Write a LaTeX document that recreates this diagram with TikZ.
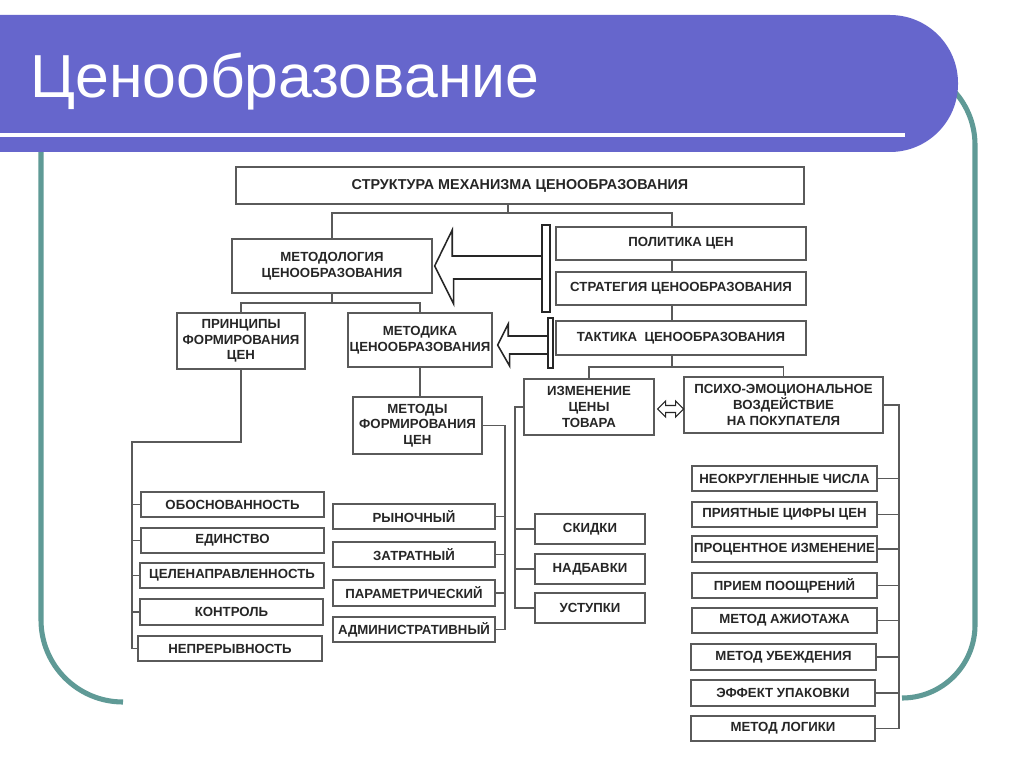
\documentclass[tikz,border=0pt]{standalone}
\usepackage{fontspec}
\setmainfont{Liberation Sans}
\usepackage{xcolor}
\usepackage{tikz}
\usetikzlibrary{arrows.meta,calc}
\definecolor{banner}{HTML}{6666CC}
\definecolor{frameteal}{HTML}{5F9A96}
\definecolor{boxline}{HTML}{5A5A5A}
\definecolor{boxtext}{HTML}{262626}
\newcommand{\pxu}{0.025cm}
\tikzset{
  blk/.style 2 args={draw=boxline,line width=0.9pt,fill=white,text=boxtext,
    font=\bfseries\fontsize{9.4}{11.2}\selectfont,align=center,inner sep=0pt,
    minimum width=#1*\pxu,minimum height=#2*\pxu},
  barbox/.style={draw=black!85,line width=1.1pt,fill=white,inner sep=0pt,
    minimum width=#1*\pxu},
  link/.style={draw=boxline,line width=0.8pt},
  blockarrow/.style={draw=black!85,line width=1.1pt,fill=white,line join=miter},
  framepen/.style={draw=frameteal,line width=3.6pt}
}

\begin{document}
\begin{tikzpicture}[x=0.025cm,y=-0.025cm]
    \useasboundingbox[fill=white] (0,0) rectangle (1024,767);

    % teal frame, broken at the bottom
    \draw[framepen] (41,150) -- (41,620) .. controls (41,665.3) and (77.7,702) .. (123,702);
    \draw[framepen] (902,698) .. controls (942.3,698) and (975,665.3) .. (975,625)
        -- (975,145) .. controls (975,100.8) and (939.2,65) .. (895,65);

    % title banner
    \fill[banner] (0,15) -- (0,152) [rounded corners=1.7cm] -- (958,152) -- (958,15) [sharp corners] -- cycle;
    \draw[white,line width=2.8pt] (0,135) -- (905,135);
    \node[anchor=base west,text=white,inner sep=0pt,font=\fontsize{43.2}{50}\selectfont] (title) at (30,98) {Ценообразование};

    % upper part
    \node[blk={568}{37},font=\bfseries\fontsize{10.2}{12}\selectfont] (top) at (520,185.5) {СТРУКТУРА МЕХАНИЗМА ЦЕНООБРАЗОВАНИЯ};
    \node[blk={200}{54}] (metodol) at (332,266) {МЕТОДОЛОГИЯ\\ЦЕНООБРАЗОВАНИЯ};
    \node[blk={250}{33}] (polit) at (681,243.5) {ПОЛИТИКА ЦЕН};
    \node[blk={250}{33}] (strat) at (681,288.5) {СТРАТЕГИЯ ЦЕНООБРАЗОВАНИЯ};
    \node[blk={250}{34}] (takt) at (681,338) {ТАКТИКА\ \ ЦЕНООБРАЗОВАНИЯ};
    \node[blk={128}{56}] (princ) at (241,341) {ПРИНЦИПЫ\\ФОРМИРОВАНИЯ\\ЦЕН};
    \node[blk={144}{54}] (metodika) at (420,340) {МЕТОДИКА\\ЦЕНООБРАЗОВАНИЯ};
    \node[blk={129}{57}] (metody) at (417.5,425.5) {МЕТОДЫ\\ФОРМИРОВАНИЯ\\ЦЕН};
    \node[blk={130}{56}] (izmen) at (589,407) {ИЗМЕНЕНИЕ\\ЦЕНЫ\\ТОВАРА};
    \node[blk={199}{56}] (psych) at (783.5,405) {ПСИХО-ЭМОЦИОНАЛЬНОЕ\\ВОЗДЕЙСТВИЕ\\НА ПОКУПАТЕЛЯ};

    % principles
    \node[blk={183}{25}] (obos) at (232.5,504.5) {ОБОСНОВАННОСТЬ};
    \node[blk={183}{25}] (edin) at (232.5,540.5) {ЕДИНСТВО};
    \node[blk={184}{25}] (celen) at (232,575.5) {ЦЕЛЕНАПРАВЛЕННОСТЬ};
    \node[blk={183}{26}] (kontr) at (231.5,612) {КОНТРОЛЬ};
    \node[blk={184}{25}] (nepr) at (230,648.5) {НЕПРЕРЫВНОСТЬ};

    % methods
    \node[blk={162}{25}] (rynoch) at (414,516.5) {РЫНОЧНЫЙ};
    \node[blk={162}{25}] (zatrat) at (414,554.5) {ЗАТРАТНЫЙ};
    \node[blk={162}{26}] (param) at (414,593) {ПАРАМЕТРИЧЕСКИЙ};
    \node[blk={162}{25}] (admin) at (414,629.5) {АДМИНИСТРАТИВНЫЙ};

    % price change
    \node[blk={110}{30}] (skidki) at (590,529) {СКИДКИ};
    \node[blk={110}{30}] (nadb) at (590,569) {НАДБАВКИ};
    \node[blk={110}{30}] (ustup) at (590,608) {УСТУПКИ};

    % psychology
    \node[blk={185}{25}] (neokr) at (784.5,478.5) {НЕОКРУГЛЕННЫЕ ЧИСЛА};
    \node[blk={185}{25}] (priyat) at (784.5,514.5) {ПРИЯТНЫЕ ЦИФРЫ ЦЕН};
    \node[blk={185}{26}] (proc) at (784.5,549) {ПРОЦЕНТНОЕ ИЗМЕНЕНИЕ};
    \node[blk={185}{25}] (priem) at (784.5,585.5) {ПРИЕМ ПООЩРЕНИЙ};
    \node[blk={185}{25}] (azhiot) at (784.5,620.5) {МЕТОД АЖИОТАЖА};
    \node[blk={185}{26}] (ubezh) at (783.5,657) {МЕТОД УБЕЖДЕНИЯ};
    \node[blk={184}{26}] (effekt) at (783,693) {ЭФФЕКТ УПАКОВКИ};
    \node[blk={184}{25}] (logik) at (783,728.5) {МЕТОД ЛОГИКИ};

    % tree lines
    \coordinate (topj) at (508,213);
    \coordinate (rcol) at (672,0);
    \draw[link] (top.south -| topj) -- (topj);
    \draw[link] (metodol.north) |- (topj) -| (rcol |- polit.north);
    \draw[link] (rcol |- polit.south) -- (rcol |- strat.north);
    \draw[link] (rcol |- strat.south) -- (rcol |- takt.north);

    \coordinate (taktj) at (672,367);
    \draw[link] (rcol |- takt.south) -- (taktj);
    \draw[link] (izmen.north) |- (taktj) -| (psych.north);

    \coordinate (metj) at (332,303);
    \draw[link] (metodol.south) -- (metj);
    \draw[link] (princ.north) |- (metj) -| (metodika.north);
    \draw[link] (metodika.south) -- (metodika.south |- metody.north);

    \coordinate (lsp) at (132,442);
    \draw[link] (princ.south) |- (lsp) |- (nepr.west);
    \foreach \b in {obos,edin,celen,kontr}
      \draw[link] (lsp |- \b.west) -- (\b.west);

    \coordinate (msp) at (505,0);
    \draw[link] (metody.east) -| (msp |- admin.east) -- (admin.east);
    \foreach \b in {rynoch,zatrat,param}
      \draw[link] (msp |- \b.east) -- (\b.east);

    \coordinate (ssp) at (515,0);
    \draw[link] (izmen.west) -| (ssp |- ustup.west) -- (ustup.west);
    \foreach \b in {skidki,nadb}
      \draw[link] (ssp |- \b.west) -- (\b.west);

    \coordinate (rsp) at (899,0);
    \draw[link] (psych.east) -| (rsp |- logik.east) -- (logik.east);
    \foreach \b in {neokr,priyat,proc,priem,azhiot,ubezh,effekt}
      \draw[link] (rsp |- \b.east) -- (\b.east);

    % double arrow between the two tactics boxes
    \draw[blockarrow,line width=0.8pt] ($(izmen.east)+(3,2)$) -- ++(8,-8) -- ++(0,4.5) -- ++(10,0)
        -- ++(0,-4.5) -- ++(8,8) -- ++(-8,8) -- ++(0,-4.5) -- ++(-10,0) -- ++(0,4.5) -- cycle;

    % block arrows
    \node[barbox=8,minimum height=87*\pxu] (bigbar) at (546,268.5) {};
    \node[barbox=5,minimum height=50*\pxu] (smallbar) at (550.5,343) {};
    \draw[blockarrow] ($(bigbar.west)+(0,-12.5)$) -- ++(-89,0) -- ++(0,-26)
        -- ($(metodol.east)+(2,0)$) -- ++(19,38) -- ++(0,-25) -- ($(bigbar.west)+(0,10.5)$);
    \draw[blockarrow] ($(smallbar.west)+(0,-7)$) -- ++(-39,0) -- ++(0,-12)
        -- ($(metodika.east)+(5,5)$) -- ++(12,21) -- ++(0,-12) -- ($(smallbar.west)+(0,11)$);
    \node[barbox=8,minimum height=87*\pxu] at (bigbar) {};
    \node[barbox=5,minimum height=50*\pxu] at (smallbar) {};
\end{tikzpicture}
\end{document}
